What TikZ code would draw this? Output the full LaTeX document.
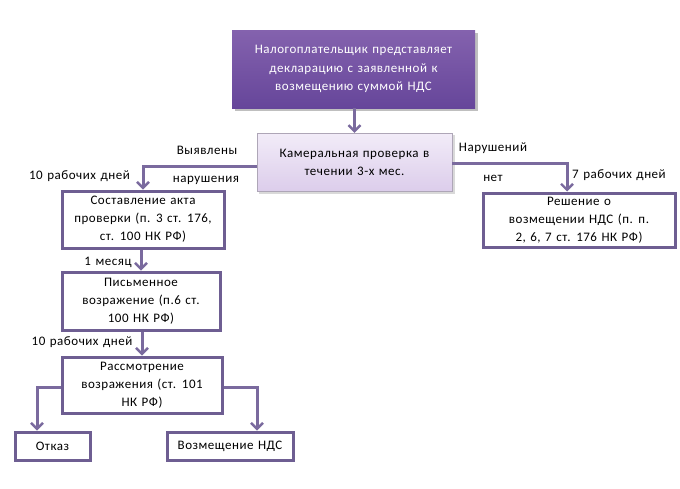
\documentclass[tikz,border=0pt]{standalone}
\usepackage{fontspec}
\setmainfont{Carlito}[LetterSpace=4,WordSpace=1.3]
\usetikzlibrary{arrows.meta,shadows}
\definecolor{lineC}{HTML}{7A6A9E}
\definecolor{boxB}{HTML}{6E5E92}
\definecolor{topA}{HTML}{8462AE}
\definecolor{topB}{HTML}{66469A}
\definecolor{kamA}{HTML}{F2ECF8}
\definecolor{kamB}{HTML}{DCCDEB}
\tikzset{
  wbox/.style={draw=boxB,line width=3pt,fill=white,align=center,inner sep=0pt,font=\fontsize{13}{18}\selectfont},
  conn/.style={draw=lineC,line width=3pt,-{Straight Barb[length=6pt,width=12pt,line width=2.4pt]}},
  lbl/.style={font=\fontsize{13}{15}\selectfont,inner sep=0pt}
}
\begin{document}
\begin{tikzpicture}[x=1pt,y=-1pt]
\useasboundingbox (0,0) rectangle (680,488);
% top box
\fill[black!25] (235,33) rectangle (478,111);
\shade[top color=topA,bottom color=topB] (232,30) rectangle (475,108);
\node[minimum width=243pt,minimum height=78pt,align=center,text=white,font=\fontsize{13}{18.5}\selectfont,inner sep=0pt] (top) at (353.5,69) {Налогоплательщик представляет\\декларацию с заявленной к\\возмещению суммой НДС};
% kameral box
\fill[black!15] (259,135) rectangle (455,194);
\shade[top color=kamA,bottom color=kamB] (257,133) rectangle (452,191);
\draw[draw=kamB!70!black!80,line width=0.8pt] (257,133) rectangle (452,191);
\node[minimum width=195pt,minimum height=58pt,align=center,font=\fontsize{13}{18}\selectfont,inner sep=0pt] (kam) at (354.5,162) {Камеральная проверка в\\течении 3-х мес.};
% boxes
\node[wbox,minimum width=162pt,minimum height=57pt] (akt) at (143,219.5) {Составление акта\\проверки (п. 3 ст. 176,\\ст. 100 НК РФ)};
\node[wbox,minimum width=192pt,minimum height=54pt] (resh) at (579,220) {Решение о\\возмещении НДС (п. п.\\2, 6, 7 ст. 176 НК РФ)};
\node[wbox,minimum width=158pt,minimum height=58pt] (pis) at (141,301) {Письменное\\возражение (п.6 ст.\\100 НК РФ)};
\node[wbox,minimum width=160pt,minimum height=56pt] (ras) at (142,385) {Рассмотрение\\возражения (ст. 101\\НК РФ)};
\node[wbox,minimum width=75pt,minimum height=28pt] (otk) at (52.5,446) {Отказ};
\node[wbox,minimum width=126pt,minimum height=28pt] (voz) at (230,446) {Возмещение НДС};
% connectors
\draw[conn] (top.south -| kam.north) -- (kam.north);
\draw[conn] (kam.west |- 0,166) -| (akt.north);
\draw[conn] (kam.east |- 0,163) -| (resh.north -| 567,0);
\draw[conn] (akt.south -| pis.north) -- (pis.north);
\draw[conn] (pis.south -| ras.north) -- (ras.north);
\draw[conn] (ras.west |- 0,387) -| (otk.north -| 37,0);
\draw[conn] (ras.east |- 0,387) -| (voz.north -| 257,0);
% labels
\node[lbl,anchor=east] (l1) at (130,176) {10 рабочих дней};
\node[lbl] (l2) at (207,150) {Выявлены};
\node[lbl] (l3) at (206,180) {нарушения};
\node[lbl] (l4) at (493,148) {Нарушений};
\node[lbl] (l5) at (493,178) {нет};
\node[lbl,anchor=west] (l6) at (572,175) {7 рабочих дней};
\node[lbl] (l7) at (108,262) {1 месяц};
\node[lbl] (l8) at (82,342) {10 рабочих дней};
\end{tikzpicture}
\end{document}
